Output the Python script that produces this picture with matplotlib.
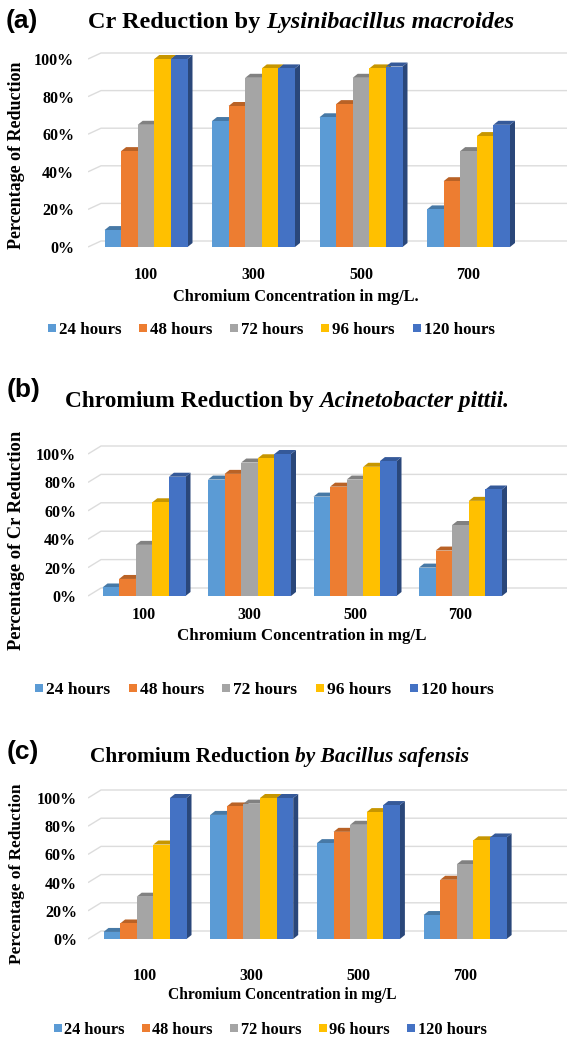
import matplotlib
matplotlib.use("Agg")
import matplotlib.pyplot as plt
from matplotlib.patches import Polygon
from matplotlib.lines import Line2D
from matplotlib import transforms
import numpy as np

W, H, DPI = 567, 1040, 100

concentrations = ["100", "300", "500", "700"]
durations = ["24 hours", "48 hours", "72 hours", "96 hours", "120 hours"]
colors = ["#5B9BD5", "#ED7D31", "#A5A5A5", "#FFC000", "#4472C4"]
y_ticks = [0, 20, 40, 60, 80, 100]
y_tick_labels = ["0%", "20%", "40%", "60%", "80%", "100%"]

# Percentage of Cr(VI) reduced; rows = incubation time, columns = concentration
lysinibacillus = [
    [9, 67, 69, 20],
    [51, 75, 76, 35],
    [65, 90, 90, 51],
    [100, 95, 95, 59],
    [100, 95, 96, 65],
]
acinetobacter = [
    [6, 82, 70, 20],
    [12, 86, 77, 32],
    [36, 94, 82, 50],
    [66, 97, 91, 67],
    [84, 100, 95, 75],
]
bacillus = [
    [5, 88, 68, 17],
    [11, 94, 76, 42],
    [30, 96, 81, 53],
    [67, 100, 90, 70],
    [100, 100, 95, 72],
]

SERIF = "Liberation Serif"
SANS = "Liberation Sans"

fig = plt.figure(figsize=(W / DPI, H / DPI), dpi=DPI)
fig.patch.set_facecolor("white")
renderer = fig.canvas.get_renderer()


def fx(px):
    return px / W


def fy(py):
    return 1 - py / H


def shade(color, f):
    r, g, b = matplotlib.colors.to_rgb(color)
    return (r * f, g * f, b * f)


def title_parts(x_px, base_px, plain, italic, size):
    t1 = fig.text(fx(x_px), fy(base_px), plain, family=SERIF, weight="bold",
                  size=size, ha="left", va="baseline")
    w = t1.get_window_extent(renderer).width
    fig.text(fx(x_px + w), fy(base_px), italic, family=SERIF, weight="bold",
             style="italic", size=size, ha="left", va="baseline")


def panel(values, zero_px, hundred_px, center_px, step_px, wall_dy_px,
          tick_y_px, ytick_pad):
    bar_px = 16.6
    left_px, right_px = 88, 567
    scale = (zero_px - hundred_px) / 100.0
    ylo, yhi = -4, 112
    top = zero_px - yhi * scale
    bottom = zero_px - ylo * scale
    ax = fig.add_axes([fx(left_px), fy(bottom), fx(right_px - left_px),
                       (bottom - top) / H])
    ax.set_xlim((left_px - center_px) / step_px, (right_px - center_px) / step_px)
    ax.set_ylim(ylo, yhi)
    for s in ax.spines.values():
        s.set_visible(False)
    ax.set_facecolor("none")

    ux = 1.0 / step_px
    uy = 1.0 / scale
    xl, xr = ax.get_xlim()

    # back wall gridlines with the short slanted side wall at the left
    wdx, wdy = 13 * ux, wall_dy_px * uy
    for v in y_ticks:
        ax.plot([xl, xl + wdx, xr], [v, v + wdy, v + wdy], color="#dcdcdc",
                lw=1.0, zorder=1, solid_capstyle="butt")

    # bars with a shallow 3-D look: front face, top face, right side face
    bw = bar_px / step_px
    ddx, ddy = 5 * ux, 4 * uy
    x = np.arange(len(concentrations))
    for i, (series, c) in enumerate(zip(values, colors)):
        xs = x + (i - 2) * bw
        ax.bar(xs, series, width=bw, color=c, linewidth=0, zorder=3)
        for xc, v in zip(xs, series):
            a, b = xc - bw / 2, xc + bw / 2
            ax.add_patch(Polygon([(b, 0), (b + ddx, ddy), (b + ddx, v + ddy), (b, v)],
                                 closed=True, facecolor=shade(c, 0.62),
                                 linewidth=0, zorder=2))
            ax.add_patch(Polygon([(a, v), (b, v), (b + ddx, v + ddy), (a + ddx, v + ddy)],
                                 closed=True, facecolor=shade(c, 0.78),
                                 linewidth=0, zorder=2.5))

    ax.set_yticks(y_ticks)
    ax.set_yticklabels(y_tick_labels, family=SERIF, weight="bold", size=11.5)
    ax.tick_params(axis="y", length=0, pad=ytick_pad)
    ax.set_xticks([])
    blend = transforms.blended_transform_factory(ax.transData, fig.transFigure)
    for xi, lab in zip(x, concentrations):
        ax.text(xi, fy(tick_y_px), lab, transform=blend, ha="center", va="center",
                family=SERIF, weight="bold", size=11.5)
    return ax


def legend(cx_px, cy_px, size):
    handles = [Line2D([], [], marker="s", linestyle="none", markersize=6,
                      markerfacecolor=c, markeredgewidth=0) for c in colors]
    fig.legend(handles, durations, loc="center", bbox_to_anchor=(fx(cx_px), fy(cy_px)),
               ncol=5, frameon=False, handlelength=0.5, handletextpad=0.15,
               columnspacing=1.05, borderpad=0,
               prop={"family": SERIF, "weight": "bold", "size": size})


# ---- (a) Lysinibacillus macroides ----
fig.text(fx(6), fy(21), "(a)", family=SANS, weight="bold", size=19, ha="left", va="center")
title_parts(88, 28, "Cr Reduction by ", "Lysinibacillus macroides", 17.5)
panel(lysinibacillus, 247, 59, 146, 107.5, 6, 275, 10)
fig.text(fx(17), fy(155), "Percentage of Reduction", family=SERIF, weight="bold",
         size=13, rotation=90, ha="center", va="center")
fig.text(fx(296), fy(297), "Chromium Concentration in mg/L.", family=SERIF,
         weight="bold", size=11.8, ha="center", va="center")
legend(271, 330, 12.2)

# ---- (b) Acinetobacter pittii ----
fig.text(fx(7), fy(390), "(b)", family=SANS, weight="bold", size=19, ha="left", va="center")
title_parts(65, 407, "Chromium Reduction by ", "Acinetobacter pittii.", 16.8)
panel(acinetobacter, 596, 454, 144, 105.5, 8, 615, 8.6)
fig.text(fx(17), fy(540), "Percentage of Cr Reduction", family=SERIF, weight="bold",
         size=13.3, rotation=90, ha="center", va="center")
fig.text(fx(302), fy(636), "Chromium Concentration in mg/L", family=SERIF,
         weight="bold", size=12.2, ha="center", va="center")
legend(264, 690, 12.5)

# ---- (c) Bacillus safensis ----
fig.text(fx(7), fy(752), "(c)", family=SANS, weight="bold", size=19, ha="left", va="center")
title_parts(90, 762, "Chromium Reduction ", "by Bacillus safensis", 15.4)
panel(bacillus, 939, 798, 145, 106.7, 8, 976, 8)
fig.text(fx(17), fy(874), "Percentage of Reduction", family=SERIF, weight="bold",
         size=12.4, rotation=90, ha="center", va="center")
fig.text(fx(282), fy(995), "Chromium Concentration in mg/L", family=SERIF,
         weight="bold", size=11.2, ha="center", va="center")
legend(270, 1030, 11.8)

fig.savefig("out.png", dpi=DPI, facecolor="white")
